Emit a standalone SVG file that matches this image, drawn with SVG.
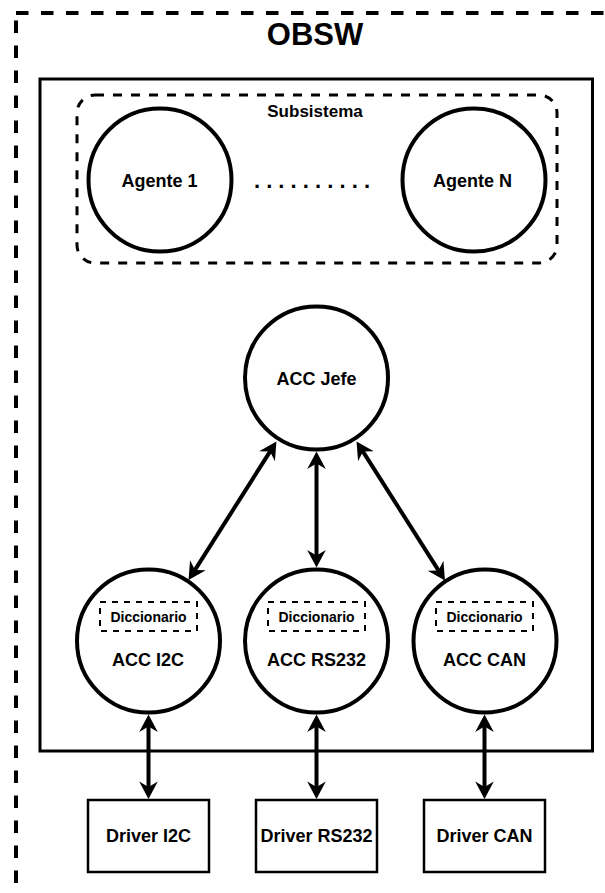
<svg xmlns="http://www.w3.org/2000/svg" width="605" height="893" viewBox="0 0 605 893">
  <style>
    text { font-family: "Liberation Sans", Arial, Helvetica, sans-serif; font-weight: bold; fill: #000; text-anchor: middle; }
    .node { fill: #fff; stroke: #000; stroke-width: 4; }
    .box { fill: #fff; stroke: #000; stroke-width: 2.5; }
    .dict { fill: none; stroke: #000; stroke-width: 2; stroke-dasharray: 6 6; }
    .link { fill: none; stroke: #000; stroke-width: 4; marker-start: url(#head); marker-end: url(#head); }
  </style>
  <defs>
    <marker id="head" viewBox="-10 -12 24 24" markerWidth="24" markerHeight="24" markerUnits="userSpaceOnUse" refX="0" refY="0" orient="auto-start-reverse">
      <path d="M10,0 L-7.5,-9.3 L-2,0 L-7.5,9.3 Z" fill="#000"/>
    </marker>
  </defs>
  <rect width="605" height="893" fill="#fff"/>

  <!-- outer software boundary -->
  <g id="obsw">
    <rect x="16" y="13" width="640" height="920" fill="none" stroke="#000" stroke-width="4" stroke-dasharray="12.5 12.5"/>
    <text x="315" y="45" font-size="31">OBSW</text>
  </g>

  <!-- inner container -->
  <g id="container">
    <rect x="40" y="79" width="552.5" height="672" fill="#fff" stroke="#000" stroke-width="3"/>
  </g>

  <!-- subsystem group -->
  <g id="subsistema">
    <rect x="77" y="95" width="480" height="168" rx="18" ry="18" fill="none" stroke="#000" stroke-width="3" stroke-dasharray="9 9"/>
    <text x="315" y="116.5" font-size="17">Subsistema</text>
  </g>
  <g id="agente1">
    <circle class="node" cx="160" cy="180" r="71.5"/>
    <text x="159.5" y="187" font-size="18">Agente 1</text>
  </g>
  <g id="ellipsis">
    <text x="312" y="187.5" font-size="22">. . . . . . . . . .</text>
  </g>
  <g id="agenteN">
    <circle class="node" cx="474" cy="180" r="71.5"/>
    <text x="472.5" y="187" font-size="18">Agente N</text>
  </g>

  <!-- connectors -->
  <g id="connectors">
    <line class="link" x1="271.1" y1="449.9" x2="193.9" y2="571.6"/>
    <line class="link" x1="316.5" y1="461.5" x2="316.5" y2="557.5"/>
    <line class="link" x1="361.9" y1="449.9" x2="439.6" y2="572.1"/>
    <line class="link" x1="148.5" y1="724.5" x2="148.5" y2="789"/>
    <line class="link" x1="316.5" y1="724.5" x2="316.5" y2="789"/>
    <line class="link" x1="484.5" y1="724.5" x2="484.5" y2="789"/>
  </g>

  <g id="acc-jefe">
    <circle class="node" cx="316.5" cy="378" r="71.5"/>
    <text x="316.5" y="385" font-size="18">ACC Jefe</text>
  </g>

  <g id="acc-i2c">
    <circle class="node" cx="148.5" cy="641" r="71.5"/>
    <rect class="dict" x="100" y="602" width="97" height="29"/>
    <text x="148.5" y="621.5" font-size="14">Diccionario</text>
    <text x="148" y="666" font-size="18">ACC I2C</text>
  </g>
  <g id="acc-rs232">
    <circle class="node" cx="316.5" cy="641" r="71.5"/>
    <rect class="dict" x="268" y="602" width="97" height="29"/>
    <text x="316.5" y="621.5" font-size="14">Diccionario</text>
    <text x="316.5" y="666" font-size="18">ACC RS232</text>
  </g>
  <g id="acc-can">
    <circle class="node" cx="485" cy="641" r="71.5"/>
    <rect class="dict" x="436" y="602" width="97" height="29"/>
    <text x="484.5" y="621.5" font-size="14">Diccionario</text>
    <text x="484.5" y="666" font-size="18">ACC CAN</text>
  </g>

  <g id="driver-i2c">
    <rect class="box" x="88" y="800" width="121" height="72"/>
    <text x="148.5" y="842" font-size="18">Driver I2C</text>
  </g>
  <g id="driver-rs232">
    <rect class="box" x="256" y="800" width="121" height="72"/>
    <text x="316.5" y="842" font-size="18">Driver RS232</text>
  </g>
  <g id="driver-can">
    <rect class="box" x="424" y="800" width="121" height="72"/>
    <text x="484.5" y="842" font-size="18">Driver CAN</text>
  </g>
</svg>
